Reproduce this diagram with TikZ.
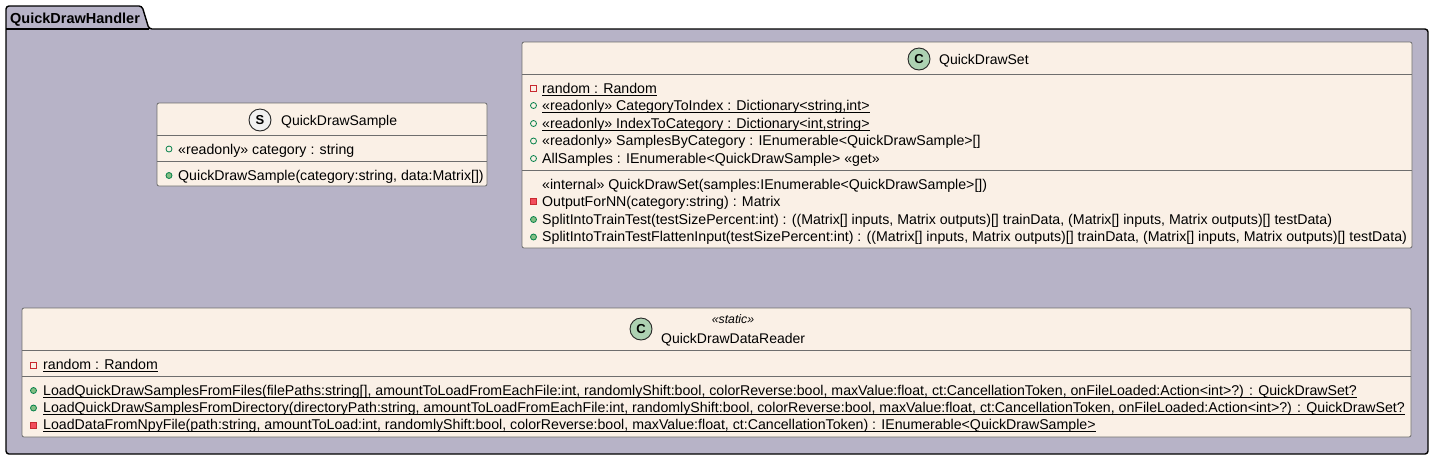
\documentclass[tikz,border=0pt]{standalone}
\usepackage{fontspec}
\setmainfont{Liberation Sans}
\definecolor{pkgfill}{HTML}{B7B3C7}
\definecolor{classfill}{HTML}{FAF0E6}
\definecolor{classline}{HTML}{6E6E6E}
\definecolor{spotc}{HTML}{ADD1B2}
\definecolor{spots}{HTML}{F1F1F1}
\definecolor{publine}{HTML}{038048}
\definecolor{pubfill}{HTML}{84BE84}
\definecolor{privline}{HTML}{C82930}
\definecolor{privfill}{HTML}{F24D5C}
\newcommand{\ulmember}[1]{{\setbox0\hbox{#1}\rlap{\rule[-2.8pt]{\wd0}{0.9pt}}\box0}}
\tikzset{
  classbox/.style={draw=classline,fill=classfill,line width=0.8pt,rounded corners=2pt},
  sep/.style={draw=classline,line width=0.8pt},
  spot/.style={circle,draw=black!85,line width=0.9pt,minimum size=22pt,inner sep=0pt,font=\fontsize{13}{13}\selectfont\bfseries},
  title/.style={anchor=base west,inner sep=0pt,font=\fontsize{14}{14}\selectfont},
  member/.style={anchor=base west,inner sep=0pt,font=\fontsize{14.17}{14}\selectfont},
  pubfield/.style={circle,draw=publine,line width=0.8pt,minimum size=6pt,inner sep=0pt},
  pubmethod/.style={pubfield,fill=pubfill},
  privfield/.style={rectangle,draw=privline,line width=0.8pt,minimum size=6pt,inner sep=0pt},
  privmethod/.style={privfield,fill=privfill}
}
\begin{document}
\begin{tikzpicture}[x=1pt,y=-1pt]
\useasboundingbox (0,0) rectangle (1434,459);

% package
\draw[fill=pkgfill,line width=1.4pt,rounded corners=3pt] (6,29)--(6,6)--(142,6)--(149,29)--(1428,29)--(1428,454)--(6,454)--cycle;
\draw[line width=1.4pt] (6,29)--(149,29);
\node (pkgname) at (10,23) [anchor=base west,inner sep=0pt,font=\fontsize{14.5}{14}\selectfont\bfseries] {QuickDrawHandler};

% sample
\draw[classbox] (157,103) rectangle (487,186);
\draw[sep] (157,135)--(487,135);
\draw[sep] (157,161)--(487,161);
\node[spot,fill=spots] (samplespot) at (260,120) {S};
\node[title] (samplename) at (281,125) {QuickDrawSample};
\node[pubfield] (sampleicon1) at (169,149) {};
\node[member] (sample1) at (178,154) {«readonly» category : string};
\node[pubmethod] (sampleicon2) at (169,175.5) {};
\node[member] (sample2) at (178,180) {QuickDrawSample(category:string, data:Matrix[])};

% set
\draw[classbox] (522,42) rectangle (1412,248);
\draw[sep] (522,74)--(1412,74);
\draw[sep] (522,170.5)--(1412,170.5);
\node[spot,fill=spotc] (setspot) at (919,59) {C};
\node[title] (setname) at (939,64) {QuickDrawSet};
\node[privfield] (seticon1) at (533.5,88.5) {};
\node[member] (set1) at (542,93) {\ulmember{random : Random}};
\node[pubfield] (seticon2) at (533.5,105.5) {};
\node[member] (set2) at (542,110) {\ulmember{«readonly» CategoryToIndex : Dictionary<string,int>}};
\node[pubfield] (seticon3) at (533.5,123.5) {};
\node[member] (set3) at (542,128) {\ulmember{«readonly» IndexToCategory : Dictionary<int,string>}};
\node[pubfield] (seticon4) at (533.5,141) {};
\node[member] (set4) at (542,145.5) {«readonly» SamplesByCategory : IEnumerable<QuickDrawSample>[]};
\node[pubfield] (seticon5) at (533.5,158.5) {};
\node[member] (set5) at (542,163) {AllSamples : IEnumerable<QuickDrawSample> «get»};
\node[member] (set6) at (542,189.5) {«internal» QuickDrawSet(samples:IEnumerable<QuickDrawSample>[])};
\node[privmethod] (seticon7) at (533.5,201.5) {};
\node[member] (set7) at (542,206.5) {OutputForNN(category:string) : Matrix};
\node[pubmethod] (seticon8) at (533.5,219.5) {};
\node[member] (set8) at (542,224) {SplitIntoTrainTest(testSizePercent:int) : ((Matrix[] inputs, Matrix outputs)[] trainData, (Matrix[] inputs, Matrix outputs)[] testData)};
\node[pubmethod] (seticon9) at (533.5,237) {};
\node[member] (set9) at (542,241) {SplitIntoTrainTestFlattenInput(testSizePercent:int) : ((Matrix[] inputs, Matrix outputs)[] trainData, (Matrix[] inputs, Matrix outputs)[] testData)};

% reader
\draw[classbox] (22,308) rectangle (1411,437);
\draw[sep] (22,350.5)--(1411,350.5);
\draw[sep] (22,376.5)--(1411,376.5);
\node[spot,fill=spotc] (readerspot) at (641,329) {C};
\node[anchor=base,inner sep=0pt,font=\fontsize{12.3}{12}\selectfont\itshape] (readerstereo) at (733,323) {«static»};
\node[title] (readername) at (661,343) {QuickDrawDataReader};
\node[privfield] (readericon1) at (33.5,365) {};
\node[member] (reader1) at (43,369.5) {\ulmember{random : Random}};
\node[pubmethod] (readericon2) at (33.5,390.5) {};
\node[member] (reader2) at (43,395) {\ulmember{LoadQuickDrawSamplesFromFiles(filePaths:string[], amountToLoadFromEachFile:int, randomlyShift:bool, colorReverse:bool, maxValue:float, ct:CancellationToken, onFileLoaded:Action<int>?) : QuickDrawSet?}};
\node[pubmethod] (readericon3) at (33.5,408) {};
\node[member] (reader3) at (43,412.5) {\ulmember{LoadQuickDrawSamplesFromDirectory(directoryPath:string, amountToLoadFromEachFile:int, randomlyShift:bool, colorReverse:bool, maxValue:float, ct:CancellationToken, onFileLoaded:Action<int>?) : QuickDrawSet?}};
\node[privmethod] (readericon4) at (33.5,425) {};
\node[member] (reader4) at (43,429.5) {\ulmember{LoadDataFromNpyFile(path:string, amountToLoad:int, randomlyShift:bool, colorReverse:bool, maxValue:float, ct:CancellationToken) : IEnumerable<QuickDrawSample>}};

\end{tikzpicture}
\end{document}
